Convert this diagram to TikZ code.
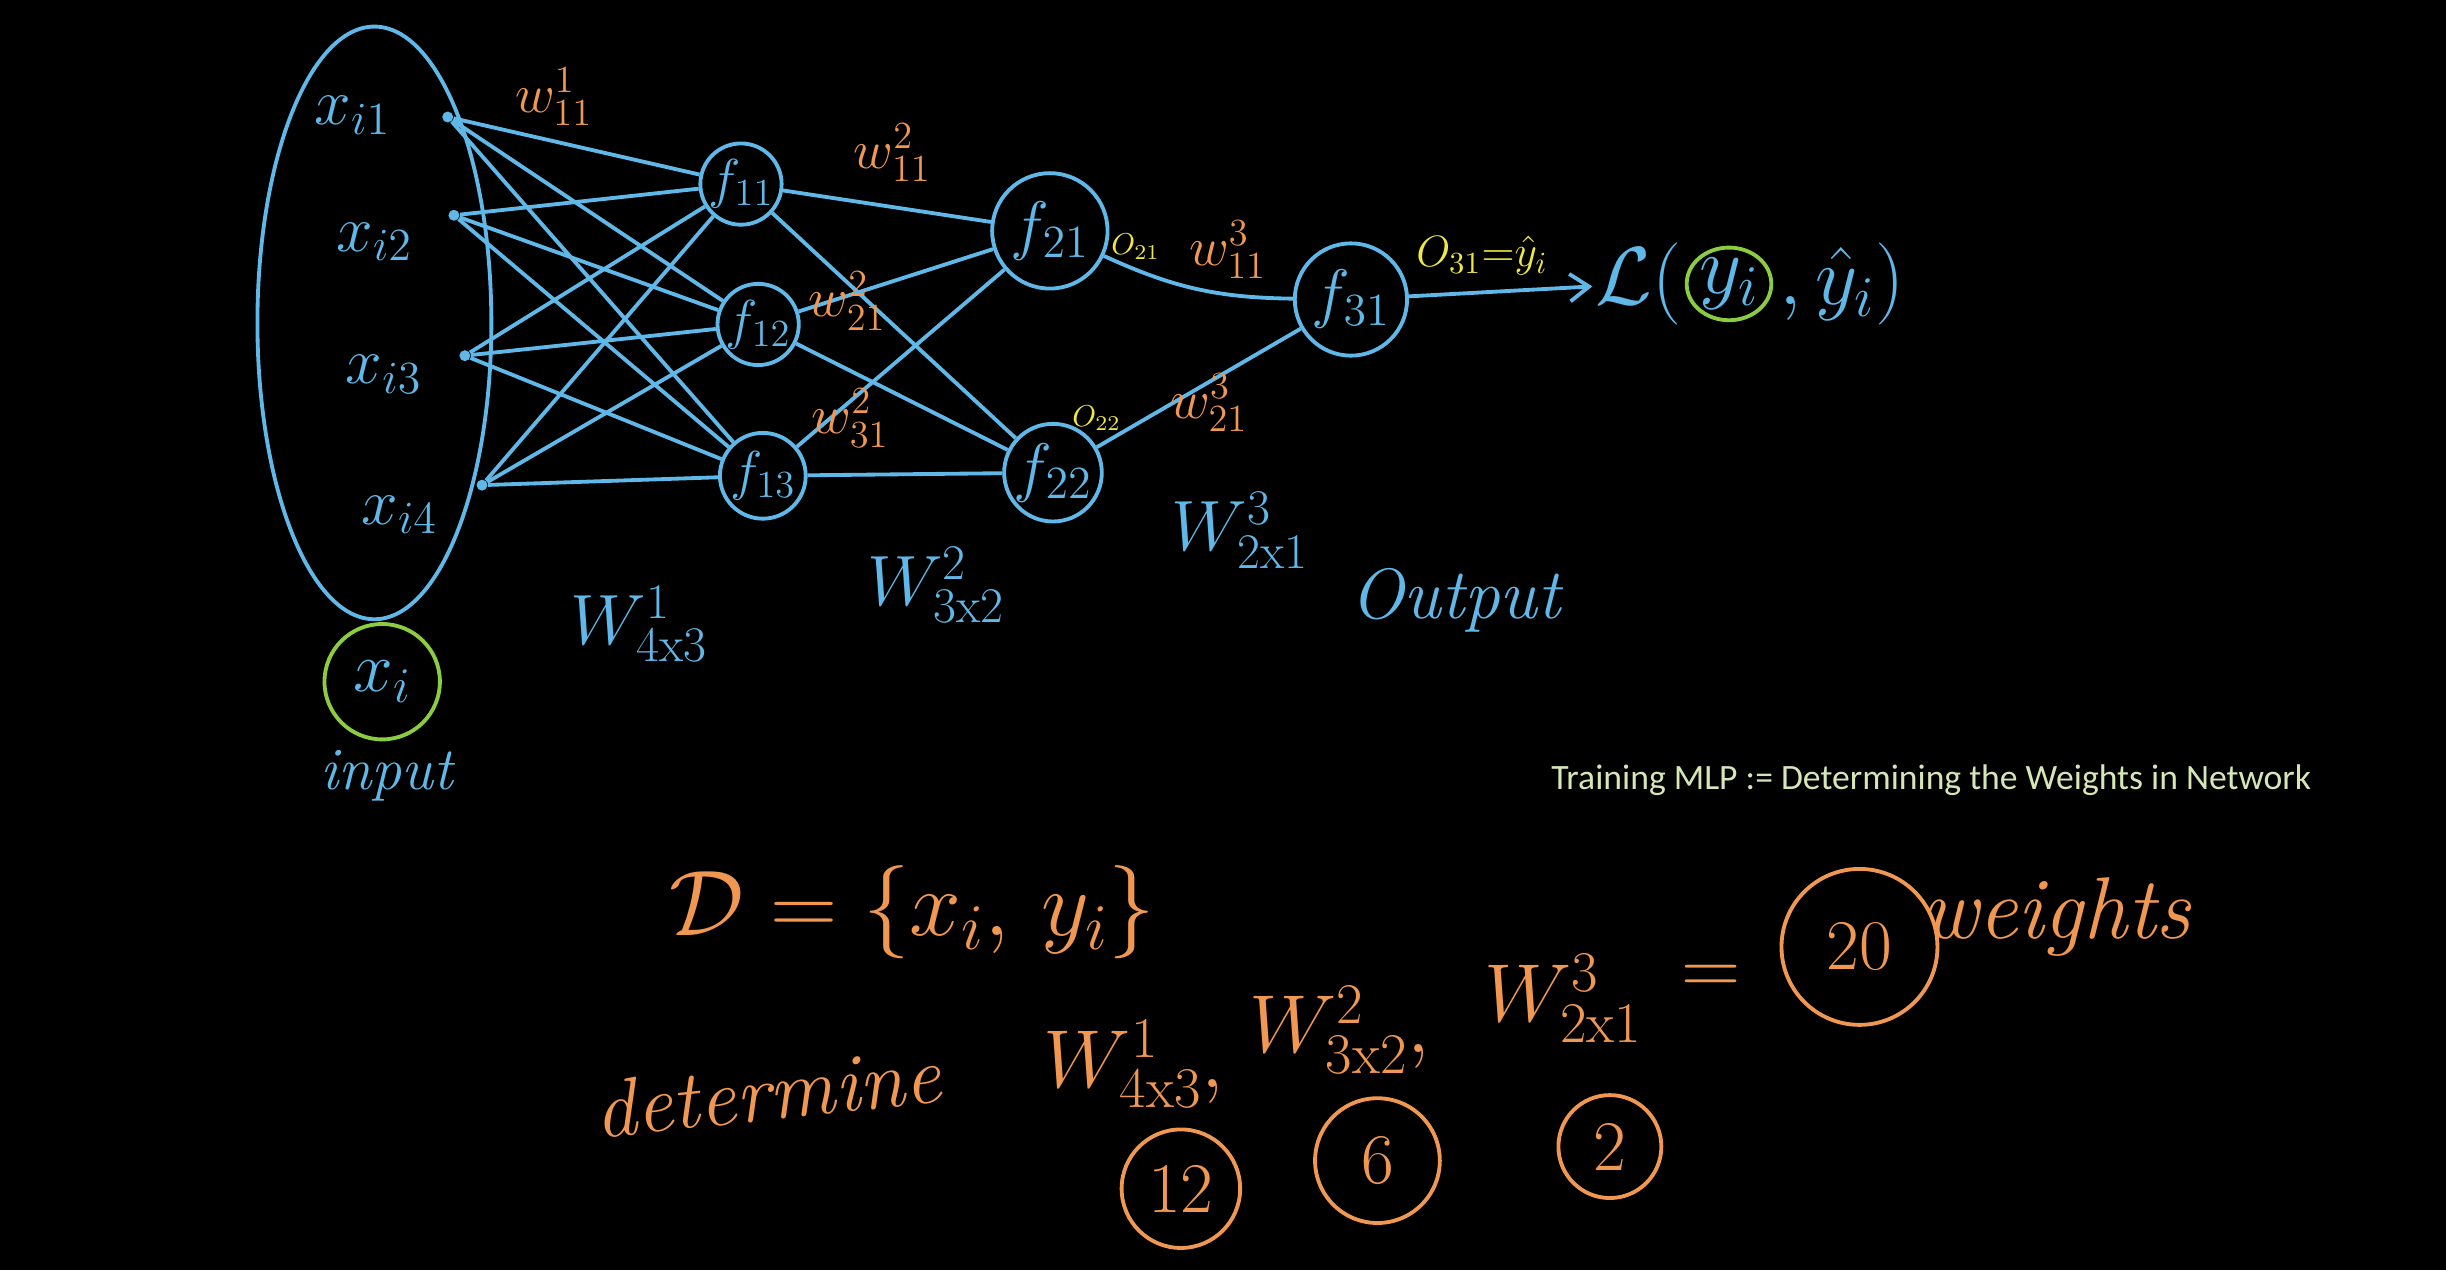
\RequirePackage{fix-cm}
\documentclass[tikz,border=0pt]{standalone}
\usepackage{fontspec}
\newfontfamily\notefont{Carlito}
\usetikzlibrary{shapes.geometric,positioning,arrows.meta}

\definecolor{chalkblue}{RGB}{96,184,232}
\definecolor{chalkorange}{RGB}{240,152,82}
\definecolor{chalkyellow}{RGB}{238,232,70}
\definecolor{chalkgreen}{RGB}{140,204,64}
\definecolor{notegreen}{RGB}{214,230,182}

\tikzset{
  wire/.style={chalkblue, line width=1.4pt},
  neuron/.style={circle, draw=chalkblue, line width=1.4pt, text=chalkblue, inner sep=0pt, font=\fontsize{20}{24}\selectfont},
  hand/.style={text=chalkblue, font=\fontsize{26}{30}\selectfont},
  wlabel/.style={text=chalkorange, font=\fontsize{20}{24}\selectfont},
  olabel/.style={text=chalkyellow, font=\fontsize{11}{13}\selectfont},
  sumtext/.style={text=chalkorange, font=\fontsize{30}{34}\selectfont},
  count/.style={circle, draw=chalkorange, line width=1.4pt, text=chalkorange, inner sep=0pt, font=\fontsize{26}{30}\selectfont},
  inpdot/.style={circle, fill=chalkblue, inner sep=0pt, minimum size=4pt},
}

\begin{document}
\begin{tikzpicture}[x=0.02cm, y=-0.02cm]

      % Define the board
      \fill[black] (0,0) rectangle (1568,814);
      \useasboundingbox (0,0) rectangle (1568,814);

      % Define the input layer
      \node[ellipse, draw=chalkblue, line width=1.4pt, minimum width=3cm, minimum height=7.6cm] (inputs) at (240,207) {};
      \node[hand, font=\fontsize{24}{28}\selectfont] (x1) at (226,74) {$x_{i1}$};
      \node[hand, font=\fontsize{24}{28}\selectfont] (x2) at (240,155) {$x_{i2}$};
      \node[hand, font=\fontsize{24}{28}\selectfont] (x3) at (246,240) {$x_{i3}$};
      \node[hand, font=\fontsize{24}{28}\selectfont] (x4) at (256,330) {$x_{i4}$};

      \node[inpdot] (d1) at (287,75) {};
      \node[inpdot] (d2) at (291,138) {};
      \node[inpdot] (d3) at (298,228) {};
      \node[inpdot] (d4) at (309,311) {};

      \node[hand, circle, draw=chalkgreen, line width=1.4pt, minimum size=1.48cm, inner sep=0pt] (xin) at (245,437) {$x_i$};
      \node[hand, font=\fontsize{22}{26}\selectfont\itshape] (input) at (248,497) {input};

      % Define the hidden layers
      \node[neuron, minimum size=1.04cm] (f11) at (475,118) {$f_{11}$};
      \node[neuron, minimum size=1.04cm] (f12) at (486,208) {$f_{12}$};
      \node[neuron, minimum size=1.1cm] (f13) at (489,305) {$f_{13}$};

      \node[neuron, minimum size=1.48cm, font=\fontsize{24}{28}\selectfont] (f21) at (673,148) {$f_{21}$};
      \node[neuron, minimum size=1.24cm, font=\fontsize{24}{28}\selectfont] (f22) at (675,303) {$f_{22}$};

      \node[neuron, minimum size=1.44cm, font=\fontsize{24}{28}\selectfont] (f31) at (866,192) {$f_{31}$};

      % Define the loss
      \node[hand, font=\fontsize{30}{34}\selectfont, anchor=east, inner sep=1pt] (lossL) at (1080,182) {$\mathcal{L}($};
      \node[hand, font=\fontsize{30}{34}\selectfont, ellipse, draw=chalkgreen, line width=1.4pt, inner sep=0pt, right=0pt of lossL] (yi) {$y_i$};
      \node[hand, font=\fontsize{30}{34}\selectfont, right=1pt of yi, inner sep=1pt] (yhat) {$,\hat{y}_i\big)$};

      % Draw the edges
      \draw[wire] (d1) -- (f11);
      \draw[wire] (d1) -- (f12);
      \draw[wire] (d1) -- (f13);
      \draw[wire] (d2) -- (f11);
      \draw[wire] (d2) -- (f12);
      \draw[wire] (d2) -- (f13);
      \draw[wire] (d3) -- (f11);
      \draw[wire] (d3) -- (f12);
      \draw[wire] (d3) -- (f13);
      \draw[wire] (d4) -- (f11);
      \draw[wire] (d4) -- (f12);
      \draw[wire] (d4) -- (f13);

      \draw[wire] (f11) -- (f21);
      \draw[wire] (f11) -- (f22);
      \draw[wire] (f12) -- (f21);
      \draw[wire] (f12) -- (f22);
      \draw[wire] (f13) -- (f21);
      \draw[wire] (f13) -- (f22);

      \draw[wire] (f21) to[bend right=12] (f31);
      \draw[wire] (f22) -- (f31);
      \draw[wire, -{Straight Barb[length=7pt, width=10pt]}] (f31) -- (lossL);

      % Weight and output labels
      \node[wlabel] (w111) at (355,62) {$w^{1}_{11}$};
      \node[wlabel] (w211) at (572,98) {$w^{2}_{11}$};
      \node[wlabel] (w221) at (543,193) {$w^{2}_{21}$};
      \node[wlabel] (w231) at (545,268) {$w^{2}_{31}$};
      \node[wlabel] (w311) at (787,160) {$w^{3}_{11}$};
      \node[wlabel] (w321) at (775,258) {$w^{3}_{21}$};

      \node[olabel] (o21) at (728,158) {$O_{21}$};
      \node[olabel] (o22) at (703,268) {$O_{22}$};
      \node[olabel, font=\fontsize{16}{20}\selectfont] (o31) at (950,164) {$O_{31}{=}\hat{y}_i$};

      \node[hand] (m1) at (410,400) {$W^{1}_{4\mathrm{x}3}$};
      \node[hand] (m2) at (600,375) {$W^{2}_{3\mathrm{x}2}$};
      \node[hand] (m3) at (795,340) {$W^{3}_{2\mathrm{x}1}$};
      \node[hand, font=\fontsize{26}{30}\selectfont\itshape] (output) at (933,385) {Output};

      \node[text=notegreen, font=\notefont\fontsize{13}{16}\selectfont] (note) at (1238,500) {Training MLP := Determining the Weights in Network};

      % The sum of weights
      \node[sumtext, font=\fontsize{34}{38}\selectfont] (data) at (585,585) {$\mathcal{D}=\{x_i,\,y_i\}$};
      \node[sumtext, font=\fontsize{30}{34}\selectfont\itshape, rotate=6] (det) at (492,700) {determine};
      \node[sumtext] (sw1) at (727,682) {$W^{1}_{4\mathrm{x}3},$};
      \node[sumtext] (sw2) at (859,660) {$W^{2}_{3\mathrm{x}2},$};
      \node[sumtext] (sw3) at (1002,640) {$W^{3}_{2\mathrm{x}1}$};
      \node[sumtext] (eq) at (1097,628) {$=$};
      \node[count, minimum size=2cm] (n20) at (1192,607) {20};
      \node[sumtext, font=\fontsize{32}{36}\selectfont\itshape] (weights) at (1318,588) {weights};

      \node[count, minimum size=1.52cm] (n12) at (757,762) {12};
      \node[count, minimum size=1.6cm] (n6) at (883,744) {6};
      \node[count, minimum size=1.32cm] (n2) at (1032,735) {2};

  \end{tikzpicture}
\end{document}
